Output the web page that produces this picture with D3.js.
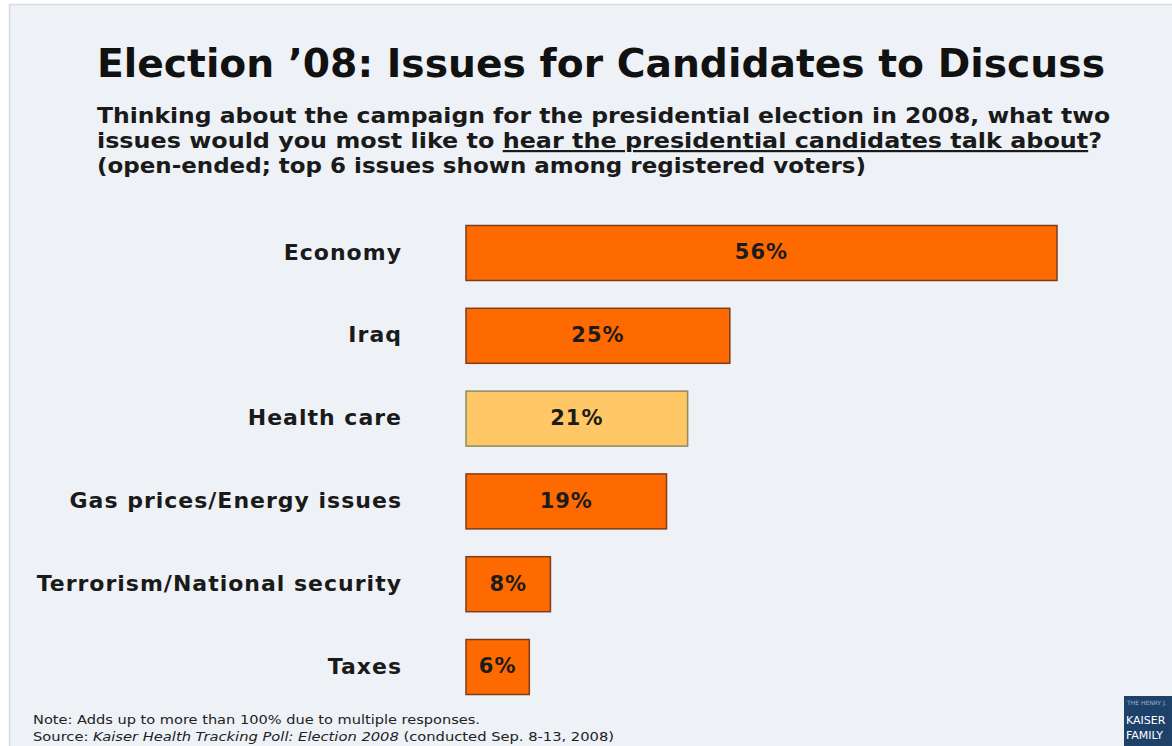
<!DOCTYPE html>
<html>
<head>
<meta charset="utf-8">
<script src="https://cdn.jsdelivr.net/npm/d3@7"></script>
<style>
  html, body { margin: 0; padding: 0; background: #ffffff; }
  svg { display: block; }
  text { font-family: "DejaVu Sans", Verdana, sans-serif; }
</style>
</head>
<body>
<svg id="chart" width="1172" height="746"></svg>
<script>
// Survey results: top 6 issues voters want the candidates to discuss
const issues = ["Economy", "Iraq", "Health care", "Gas prices/Energy issues", "Terrorism/National security", "Taxes"];
const shares = [56, 25, 21, 19, 8, 6];
const highlighted = ["Health care"];

const titleText = "Election \u201908: Issues for Candidates to Discuss";
const questionLines = [
  [{ t: "Thinking about the campaign for the presidential election in 2008, what two" }],
  [{ t: "issues would you most like to " }, { t: "hear the presidential candidates talk about", u: true }, { t: "?" }],
  [{ t: "(open-ended; top 6 issues shown among registered voters)" }]
];
const noteText = "Note: Adds up to more than 100% due to multiple responses.";
const sourceParts = [
  { t: "Source:  " },
  { t: "Kaiser Health Tracking Poll: Election 2008", i: true },
  { t: " (conducted Sep. 8-13, 2008)" }
];

const data = issues.map((name, i) => ({ name, value: shares[i] }));

const svg = d3.select("#chart");

// slide panel
svg.append("rect")
  .attr("x", 9.5).attr("y", 4.5)
  .attr("width", 1180).attr("height", 760)
  .attr("fill", "#eef1f6")
  .attr("stroke", "#d6dbe3")
  .attr("stroke-width", 1.5);

// title
svg.append("text")
  .attr("x", 97).attr("y", 77)
  .attr("font-size", 39).attr("font-weight", "bold")
  .attr("fill", "#111")
  .attr("textLength", 1008).attr("lengthAdjust", "spacingAndGlyphs")
  .text(titleText);

// question text
const qWidths = [1013, 1005, 769];
const qBase = [123, 148, 173];
questionLines.forEach((parts, li) => {
  const t = svg.append("text")
    .attr("x", 97).attr("y", qBase[li])
    .attr("font-size", 22).attr("font-weight", "bold")
    .attr("fill", "#1a1a1a")
    .attr("textLength", qWidths[li]).attr("lengthAdjust", "spacingAndGlyphs");
  parts.forEach(p => {
    const s = t.append("tspan").text(p.t);
    if (p.u) s.style("text-decoration", "underline");
  });
});

// scales
const x = d3.scaleLinear().domain([0, 56]).range([466, 1057]);
const y = d3.scaleBand().domain(issues).range([225.5, 694.5]).paddingInner(0.336).paddingOuter(0);

// category labels
svg.append("g")
  .selectAll("text")
  .data(data)
  .join("text")
  .attr("x", 402)
  .attr("y", d => y(d.name) + y.bandwidth() / 2)
  .attr("dy", "0.3em")
  .attr("text-anchor", "end")
  .attr("font-size", 22).attr("font-weight", "bold")
  .attr("letter-spacing", 1)
  .attr("fill", "#1a1a1a")
  .text(d => d.name);

// bars
svg.append("g")
  .selectAll("rect")
  .data(data)
  .join("rect")
  .attr("x", x(0))
  .attr("y", d => y(d.name))
  .attr("width", d => x(d.value) - x(0))
  .attr("height", y.bandwidth())
  .attr("fill", d => highlighted.includes(d.name) ? "#ffc766" : "#ff6a00")
  .attr("stroke", d => highlighted.includes(d.name) ? "#8d8a62" : "#7e3c1c")
  .attr("stroke-width", 1.5);

// value labels
svg.append("g")
  .selectAll("text")
  .data(data)
  .join("text")
  .attr("x", d => (x(0) + x(d.value)) / 2)
  .attr("y", d => y(d.name) + y.bandwidth() / 2)
  .attr("dy", "0.3em")
  .attr("text-anchor", "middle")
  .attr("font-size", 21).attr("font-weight", "bold")
  .attr("letter-spacing", 1)
  .attr("fill", "#1c1c1c")
  .text(d => d.value + "%");

// footnotes
svg.append("text")
  .attr("x", 33).attr("y", 724)
  .attr("font-size", 12).attr("fill", "#222")
  .attr("textLength", 447).attr("lengthAdjust", "spacingAndGlyphs")
  .text(noteText);

const src = svg.append("text")
  .attr("x", 33).attr("y", 741)
  .attr("font-size", 12).attr("fill", "#222")
  .attr("textLength", 581).attr("lengthAdjust", "spacingAndGlyphs");
sourceParts.forEach(p => {
  const s = src.append("tspan").text(p.t);
  if (p.i) s.attr("font-style", "italic");
});

// foundation logo in the corner
const logo = svg.append("g");
logo.append("rect")
  .attr("x", 1124).attr("y", 696)
  .attr("width", 60).attr("height", 60)
  .attr("fill", "#1e416a");
logo.append("text")
  .attr("x", 1127).attr("y", 705)
  .attr("font-family", "Liberation Serif, serif")
  .attr("font-size", 6).attr("fill", "#9fb3cc")
  .text("THE HENRY J.");
logo.append("text")
  .attr("x", 1126).attr("y", 724)
  .attr("font-family", "Liberation Serif, serif")
  .attr("font-size", 11).attr("fill", "#ffffff")
  .text("KAISER");
logo.append("text")
  .attr("x", 1126).attr("y", 739)
  .attr("font-family", "Liberation Serif, serif")
  .attr("font-size", 11).attr("fill", "#ffffff")
  .text("FAMILY");
</script>
</body>
</html>
